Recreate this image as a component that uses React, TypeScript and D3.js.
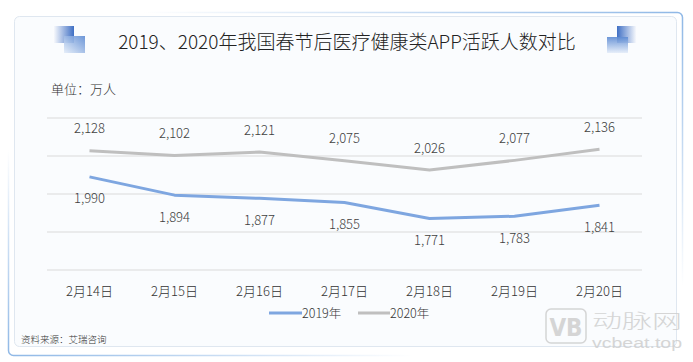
import * as d3 from "d3";

const categories = ["2月14日", "2月15日", "2月16日", "2月17日", "2月18日", "2月19日", "2月20日"];
const values2019 = [1990, 1894, 1877, 1855, 1771, 1783, 1841];
const values2020 = [2128, 2102, 2121, 2075, 2026, 2077, 2136];
const seriesNames = ["2019年", "2020年"];
const yTicks = [1500, 1700, 1900, 2100, 2300];

const FONT = "'Noto Sans CJK SC', 'Noto Sans', sans-serif";
const BLUE = "#7ea6e0";
const GRAY = "#bfbfbf";
const TEXT = "#333333";

function App() {
  const width = 693;
  const height = 362;
  const left = 47;
  const right = 642;
  const top = 118;
  const bottom = 270;

  const x = d3.scaleBand().domain(categories).range([left, right]);
  const y = d3.scaleLinear().domain([1500, 2300]).range([bottom, top]);
  const cx = (c: string) => (x(c) ?? 0) + x.bandwidth() / 2;

  const line = d3
    .line<number>()
    .x((_, i) => cx(categories[i]))
    .y((d) => y(d));

  const fmt = d3.format(",");

  const series = [
    { name: seriesNames[0], values: values2019, color: BLUE, dy: 26.5 },
    { name: seriesNames[1], values: values2020, color: GRAY, dy: -17.5 },
  ];

  return (
    <svg
      width={width}
      height={height}
      viewBox={`0 0 ${width} ${height}`}
      style={{ position: "absolute", left: 0, top: 0, fontFamily: FONT, fontWeight: 300 }}
    >
      <defs>
        <linearGradient id="frame" x1="0" y1="1" x2="1" y2="0">
          <stop offset="0" stopColor="#8fb8e6" stopOpacity="1" />
          <stop offset="0.3" stopColor="#8fb8e6" stopOpacity="0" />
          <stop offset="0.6" stopColor="#8fb8e6" stopOpacity="0" />
          <stop offset="1" stopColor="#8fb8e6" stopOpacity="1" />
        </linearGradient>
        <linearGradient id="sqL1" x1="0" y1="0" x2="1" y2="0">
          <stop offset="0" stopColor="#ffffff" />
          <stop offset="1" stopColor="#3f6fc4" />
        </linearGradient>
        <linearGradient id="sqL2" x1="0" y1="1" x2="1" y2="0">
          <stop offset="0" stopColor="#e4edf9" />
          <stop offset="1" stopColor="#5d8bd3" />
        </linearGradient>
        <linearGradient id="sqR1" x1="0" y1="0" x2="1" y2="0">
          <stop offset="0" stopColor="#3f6fc4" />
          <stop offset="1" stopColor="#ffffff" />
        </linearGradient>
        <linearGradient id="sqR2" x1="0" y1="0" x2="0" y2="1">
          <stop offset="0" stopColor="#5d8bd3" />
          <stop offset="1" stopColor="#e4edf9" />
        </linearGradient>
      </defs>

      <rect x={0} y={0} width={width} height={height} fill="#ffffff" />
      <rect x={8.5} y={12.5} width={674} height={343} rx={5} fill="none" stroke="url(#frame)" strokeWidth={1.5} />
      <rect x={14.5} y={16.5} width={662} height={330} rx={5} fill="#fafcfe" stroke="#dfe7f0" strokeWidth={1} />

      {/* title decorations */}
      <rect x={53} y={26} width={21} height={17} fill="url(#sqL1)" />
      <rect x={64} y={36} width={21} height={17} fill="url(#sqL2)" opacity={0.9} />
      <rect x={617} y={26} width={20} height={17} fill="url(#sqR1)" />
      <rect x={607} y={37} width={21} height={16} fill="url(#sqR2)" opacity={0.9} />

      <text x={347} y={49} textAnchor="middle" fontSize={19} fill="#222222">
        2019、2020年我国春节后医疗健康类APP活跃人数对比
      </text>
      <text x={51} y={94} fontSize={13} fill={TEXT}>
        单位：万人
      </text>

      {/* gridlines */}
      {yTicks.map((t) => (
        <line key={t} x1={left} x2={right} y1={y(t)} y2={y(t)} stroke="#d9d9d9" strokeWidth={1.2} />
      ))}

      {/* x labels */}
      {categories.map((c) => (
        <text key={c} x={cx(c)} y={295.5} textAnchor="middle" fontSize={13} fill={TEXT}>
          {c}
        </text>
      ))}

      {series.map((s) => (
        <g key={s.name}>
          <path d={line(s.values) ?? ""} fill="none" stroke={s.color} strokeWidth={3} strokeLinejoin="round" />
          {s.values.map((v, i) => (
            <text
              key={i}
              x={cx(categories[i])}
              y={y(v) + s.dy}
              textAnchor="middle"
              fontSize={13}
              fill="#404040"
            >
              {fmt(v)}
            </text>
          ))}
        </g>
      ))}

      {/* legend */}
      <line x1={269} x2={302} y1={313} y2={313} stroke={BLUE} strokeWidth={3} />
      <text x={302} y={317.5} fontSize={12.5} fill={TEXT}>
        {seriesNames[0]}
      </text>
      <line x1={358} x2={390} y1={313} y2={313} stroke={GRAY} strokeWidth={3} />
      <text x={390} y={317.5} fontSize={12.5} fill={TEXT}>
        {seriesNames[1]}
      </text>

      <text x={21} y={343} fontSize={9.5} fill={TEXT}>
        资料来源：艾瑞咨询
      </text>

      {/* watermark */}
      <g opacity={0.8}>
        <rect x={546} y={309} width={40} height={34} rx={5} fill="none" stroke="#cccccc" strokeWidth={1.5} />
        <text x={566} y={336} textAnchor="middle" fontSize={24} fontWeight="bold" fill="#cccccc" fontFamily="'DejaVu Sans Condensed', sans-serif">
          VB
        </text>
        <text x={592} y={328} fontSize={19} fill="#cccccc" textLength={90} lengthAdjust="spacingAndGlyphs">
          动脉网
        </text>
        <text x={592} y={348} fontSize={14} fill="#cccccc" textLength={90} lengthAdjust="spacingAndGlyphs" fontFamily="'Liberation Sans', sans-serif">
          vcbeat.top
        </text>
      </g>
    </svg>
  );
}

export default App;
